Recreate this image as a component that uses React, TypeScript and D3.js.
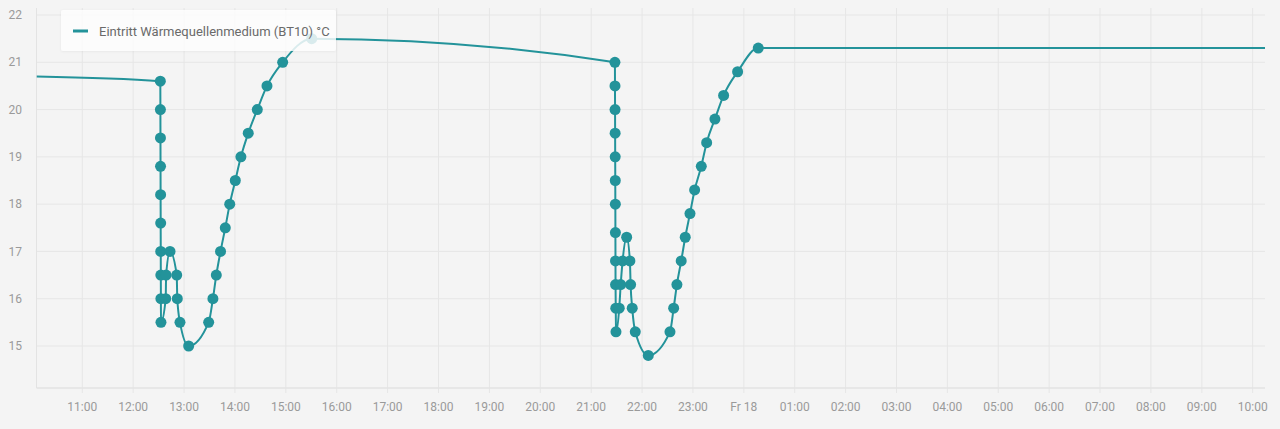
import * as d3 from "d3";

// Eintritt Wärmequellenmedium (BT10), °C — readings over 24 h
const times: string[] = [
  "2022-11-17T10:06:00",
  "2022-11-17T12:32:00", "2022-11-17T12:32:05", "2022-11-17T12:32:10", "2022-11-17T12:32:15",
  "2022-11-17T12:32:20", "2022-11-17T12:32:25", "2022-11-17T12:32:30", "2022-11-17T12:32:35",
  "2022-11-17T12:32:40", "2022-11-17T12:32:45",
  "2022-11-17T12:38:20", "2022-11-17T12:38:50", "2022-11-17T12:43:25", "2022-11-17T12:51:20",
  "2022-11-17T12:52:00", "2022-11-17T12:55:10", "2022-11-17T13:05:25", "2022-11-17T13:29:00",
  "2022-11-17T13:34:00", "2022-11-17T13:38:00", "2022-11-17T13:43:00", "2022-11-17T13:48:35",
  "2022-11-17T13:53:50", "2022-11-17T14:00:25", "2022-11-17T14:07:00", "2022-11-17T14:15:40",
  "2022-11-17T14:26:20", "2022-11-17T14:37:45", "2022-11-17T14:56:15", "2022-11-17T15:30:30",
  "2022-11-17T21:28:00", "2022-11-17T21:28:05", "2022-11-17T21:28:10", "2022-11-17T21:28:15",
  "2022-11-17T21:28:20", "2022-11-17T21:28:25", "2022-11-17T21:28:30", "2022-11-17T21:28:35",
  "2022-11-17T21:28:40", "2022-11-17T21:28:45", "2022-11-17T21:29:00", "2022-11-17T21:29:15",
  "2022-11-17T21:33:05", "2022-11-17T21:34:50", "2022-11-17T21:37:05", "2022-11-17T21:41:50",
  "2022-11-17T21:45:40", "2022-11-17T21:46:30", "2022-11-17T21:48:25", "2022-11-17T21:52:00",
  "2022-11-17T22:07:20", "2022-11-17T22:32:55", "2022-11-17T22:37:15", "2022-11-17T22:41:05",
  "2022-11-17T22:46:10", "2022-11-17T22:50:55", "2022-11-17T22:56:30", "2022-11-17T23:02:00",
  "2022-11-17T23:09:50", "2022-11-17T23:16:10", "2022-11-17T23:25:55", "2022-11-17T23:36:10",
  "2022-11-17T23:52:40", "2022-11-18T00:17:00",
  "2022-11-18T10:14:30",
];
const temps: number[] = [
  20.7,
  20.6, 20.0, 19.4, 18.8, 18.2, 17.6, 17.0, 16.5, 16.0, 15.5,
  16.0, 16.5, 17.0, 16.5, 16.0, 15.5, 15.0, 15.5,
  16.0, 16.5, 17.0, 17.5, 18.0, 18.5, 19.0, 19.5, 20.0, 20.5, 21.0, 21.5,
  21.0, 20.5, 20.0, 19.5, 19.0, 18.5, 18.0, 17.4, 16.8, 16.3, 15.8, 15.3,
  15.8, 16.3, 16.8, 17.3, 16.8, 16.3, 15.8, 15.3, 14.8,
  15.3, 15.8, 16.3, 16.8, 17.3, 17.8, 18.3, 18.8, 19.3, 19.8, 20.3, 20.8, 21.3,
  21.3,
];
const yTicks: number[] = [15, 16, 17, 18, 19, 20, 21, 22];
const seriesName = "Eintritt Wärmequellenmedium (BT10) °C";

const W = 1280;
const H = 429;
const left = 36.5;
const right = 1265;
const top = 8;
const bottom = 388;
const teal = "#23939a";

export default function App() {
  const parse = d3.timeParse("%Y-%m-%dT%H:%M:%S");
  const data = times.map((t, i) => ({ t: parse(t) as Date, v: temps[i] }));

  const x = d3
    .scaleTime()
    .domain([parse("2022-11-17T10:06:00") as Date, parse("2022-11-18T10:14:30") as Date])
    .range([left, right]);
  const y = d3.scaleLinear().domain([14.112, 22.148]).range([bottom, top]);

  const xTicks = x.ticks(d3.timeHour.every(1) as d3.TimeInterval);
  const fmt = (d: Date) =>
    d.getHours() === 0 ? "Fr " + d3.timeFormat("%d")(d) : d3.timeFormat("%H:%M")(d);

  const line = d3
    .line<{ t: Date; v: number }>()
    .x((d) => x(d.t))
    .y((d) => y(d.v))
    .curve(d3.curveMonotoneX);

  const font = "Roboto, 'Noto Sans', sans-serif";

  return (
    <div style={{ position: "fixed", left: 0, top: 0, width: W, height: H, background: "#f4f4f4" }}>
      <svg width={W} height={H} style={{ display: "block" }}>
        <defs>
          <clipPath id="plot">
            <rect x={left} y={top - 8} width={right - left} height={bottom - top + 8} />
          </clipPath>
          <filter id="shadow" x="-10%" y="-30%" width="120%" height="160%">
            <feDropShadow dx="0" dy="0.5" stdDeviation="1" floodColor="#000" floodOpacity="0.08" />
          </filter>
        </defs>

        {/* grid */}
        {yTicks.map((t) => (
          <line key={"gy" + t} x1={left} x2={right} y1={y(t)} y2={y(t)} stroke="#e6e6e6" strokeWidth={1} />
        ))}
        {xTicks.map((t) => (
          <line key={"gx" + +t} x1={x(t)} x2={x(t)} y1={top} y2={bottom + 5} stroke="#e6e6e6" strokeWidth={1} />
        ))}
        <line x1={left} x2={left} y1={top} y2={bottom} stroke="#e3e3e3" />
        <line x1={left} x2={right} y1={bottom} y2={bottom} stroke="#e3e3e3" strokeWidth={1.5} />

        {/* y labels */}
        {yTicks.map((t) => (
          <text key={"ly" + t} x={22} y={y(t)} dy="0.35em" textAnchor="end" fontFamily={font} fontSize={12} fill="#9a9a9a">
            {t}
          </text>
        ))}
        {/* x labels */}
        {xTicks.map((t) => (
          <text key={"lx" + +t} x={x(t)} y={411} textAnchor="middle" fontFamily={font} fontSize={12} fill="#9a9a9a">
            {fmt(t)}
          </text>
        ))}

        <g clipPath="url(#plot)">
          <path d={line(data) ?? ""} fill="none" stroke={teal} strokeWidth={2} />
          {data.slice(1, -1).map((d, i) => (
            <circle key={i} cx={x(d.t)} cy={y(d.v)} r={5.5} fill={teal} />
          ))}
        </g>

        {/* legend */}
        <g filter="url(#shadow)">
          <rect x={61} y={10} width={275} height={41} rx={2} fill="#ffffff" fillOpacity={0.82} />
        </g>
        <line x1={73} x2={88} y1={31} y2={31} stroke={teal} strokeWidth={3} />
        <text x={99} y={31} dy="0.35em" fontFamily={font} fontSize={13} fill="#6a6a6a">
          {seriesName}
        </text>
      </svg>
    </div>
  );
}
